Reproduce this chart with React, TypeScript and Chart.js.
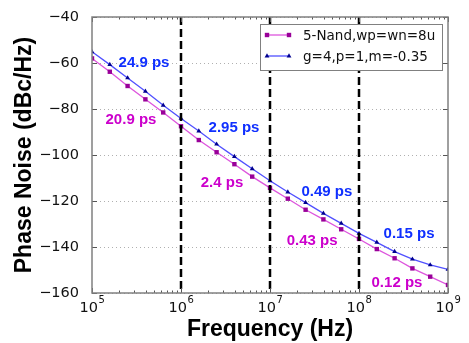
import React, { useEffect, useRef } from 'react';
import { Chart, registerables } from 'chart.js';

Chart.register(...registerables);

// ---- data ----
const freqHz = [
  1.0e5, 1.585e5, 2.512e5, 3.981e5, 6.31e5,
  1.0e6, 1.585e6, 2.512e6, 3.981e6, 6.31e6,
  1.0e7, 1.585e7, 2.512e7, 3.981e7, 6.31e7,
  1.0e8, 1.585e8, 2.512e8, 3.981e8, 6.31e8,
  1.0e9,
];
const nandNoise = [
  -58.0, -63.8, -70.0, -75.8, -81.5,
  -87.5, -93.5, -98.8, -104.0, -109.4,
  -114.3, -119.0, -123.8, -128.0, -132.3,
  -136.5, -140.9, -144.9, -149.3, -152.9,
  -156.5,
];
const modelNoise = [
  -55.1, -60.7, -66.5, -72.3, -78.4,
  -84.1, -89.6, -95.3, -100.7, -106.0,
  -111.2, -116.1, -120.7, -125.4, -129.7,
  -134.1, -138.0, -142.0, -145.3, -147.8,
  -149.7,
];
const seriesNames = ['5-Nand,wp=wn=8u', 'g=4,p=1,m=-0.35'];

const yTickValues = [-160, -140, -120, -100, -80, -60, -40];
const xDecadeValues = [1e5, 1e6, 1e7, 1e8, 1e9];
const xDecadeExponents = ['5', '6', '7', '8', '9'];
const dashedFreqs = [1e6, 1e7, 1e8];

const annoLabels = ['24.9 ps', '20.9 ps', '2.95 ps', '2.4 ps', '0.49 ps', '0.43 ps', '0.15 ps', '0.12 ps'];
const annoFreq = [3.84e5, 2.74e5, 3.94e6, 2.89e6, 4.36e7, 2.97e7, 3.65e8, 2.67e8];
const annoNoise = [-60.0, -84.8, -88.3, -112.2, -116.1, -137.4, -134.3, -155.7];
const annoSeries = [1, 0, 1, 0, 1, 0, 1, 0];

// ---- styles ----
const LINE_COLORS = ['#dd55dd', '#5050ff'];
const MARK_COLORS = ['#990099', '#000090'];
const TEXT_COLORS = ['#cc00cc', '#1030ff'];
const FRAME = '#808080';
const TICK_FONT = '"DejaVu Sans", sans-serif';

function drawMarker(ctx: CanvasRenderingContext2D, kind: number, x: number, y: number) {
  ctx.fillStyle = MARK_COLORS[kind];
  ctx.beginPath();
  if (kind === 0) {
    ctx.rect(x - 2.2, y - 2.2, 4.4, 4.4);
  } else {
    const r = 2.8;
    ctx.moveTo(x, y - r);
    ctx.lineTo(x + r * 0.866, y + r * 0.5);
    ctx.lineTo(x - r * 0.866, y + r * 0.5);
    ctx.closePath();
  }
  ctx.fill();
}

const overlay = {
  id: 'overlay',
  beforeDatasetsDraw(chart: any) {
    const { ctx, chartArea: a, scales } = chart;
    const ys = scales.y;
    ctx.save();
    ctx.strokeStyle = '#b0b0b0';
    ctx.lineWidth = 1;
    ctx.setLineDash([1, 3]);
    for (const v of yTickValues) {
      const py = Math.round(ys.getPixelForValue(v)) + 0.5;
      ctx.beginPath();
      ctx.moveTo(a.left, py);
      ctx.lineTo(a.right, py);
      ctx.stroke();
    }
    ctx.restore();
  },
  afterDatasetsDraw(chart: any) {
    const { ctx, chartArea: a, scales } = chart;
    const xs = scales.x;
    ctx.save();
    ctx.strokeStyle = '#000';
    ctx.lineWidth = 2.5;
    ctx.setLineDash([8, 4]);
    for (const f of dashedFreqs) {
      const px = xs.getPixelForValue(f);
      ctx.beginPath();
      ctx.moveTo(px, a.top);
      ctx.lineTo(px, a.bottom);
      ctx.stroke();
    }
    ctx.restore();
  },
  afterDraw(chart: any) {
    const { ctx, chartArea: a, scales } = chart;
    const xs = scales.x;
    const ys = scales.y;
    ctx.save();
    // ticks (inward, all sides)
    ctx.strokeStyle = '#555';
    ctx.lineWidth = 1;
    for (let i = 0; i < xDecadeValues.length; i++) {
      const d = xDecadeValues[i];
      const px = Math.round(xs.getPixelForValue(d)) + 0.5;
      ctx.beginPath();
      ctx.moveTo(px, a.bottom); ctx.lineTo(px, a.bottom - 5);
      ctx.moveTo(px, a.top); ctx.lineTo(px, a.top + 5);
      ctx.stroke();
      if (i < xDecadeValues.length - 1) {
        for (let m = 2; m <= 9; m++) {
          const mx = Math.round(xs.getPixelForValue(d * m)) + 0.5;
          ctx.beginPath();
          ctx.moveTo(mx, a.bottom); ctx.lineTo(mx, a.bottom - 2.5);
          ctx.moveTo(mx, a.top); ctx.lineTo(mx, a.top + 2.5);
          ctx.stroke();
        }
      }
    }
    for (const v of yTickValues) {
      const py = Math.round(ys.getPixelForValue(v)) + 0.5;
      ctx.beginPath();
      ctx.moveTo(a.left, py); ctx.lineTo(a.left + 5, py);
      ctx.moveTo(a.right, py); ctx.lineTo(a.right - 5, py);
      ctx.stroke();
    }
    // frame
    ctx.strokeStyle = FRAME;
    ctx.lineWidth = 1.5;
    ctx.strokeRect(a.left, a.top, a.right - a.left, a.bottom - a.top);

    // x tick labels 10^n
    ctx.fillStyle = '#111';
    ctx.textBaseline = 'alphabetic';
    ctx.textAlign = 'left';
    for (let i = 0; i < xDecadeValues.length; i++) {
      const px = xs.getPixelForValue(xDecadeValues[i]);
      ctx.font = `14.5px ${TICK_FONT}`;
      const w1 = ctx.measureText('10').width;
      ctx.font = `10px ${TICK_FONT}`;
      const w2 = ctx.measureText(xDecadeExponents[i]).width;
      const x0 = px - (w1 + w2) / 2;
      ctx.font = `14.5px ${TICK_FONT}`;
      ctx.fillText('10', x0, a.bottom + 19);
      ctx.font = `10px ${TICK_FONT}`;
      ctx.fillText(xDecadeExponents[i], x0 + w1 + 0.5, a.bottom + 10);
    }

    // annotations
    ctx.font = 'bold 15px "Liberation Sans", Arial, sans-serif';
    ctx.textAlign = 'center';
    ctx.textBaseline = 'middle';
    for (let i = 0; i < annoLabels.length; i++) {
      ctx.fillStyle = TEXT_COLORS[annoSeries[i]];
      ctx.fillText(annoLabels[i], xs.getPixelForValue(annoFreq[i]), ys.getPixelForValue(annoNoise[i]));
    }

    // legend
    const bw = 182, bh = 46;
    const bx = a.right - 6 - bw;
    const by = a.top + 7;
    ctx.fillStyle = '#fff';
    ctx.fillRect(bx, by, bw, bh);
    ctx.strokeStyle = FRAME;
    ctx.lineWidth = 1;
    ctx.strokeRect(bx + 0.5, by + 0.5, bw, bh);
    ctx.font = `13.5px ${TICK_FONT}`;
    ctx.textAlign = 'left';
    ctx.textBaseline = 'middle';
    for (let k = 0; k < seriesNames.length; k++) {
      const ry = by + 11 + k * 21;
      const lx0 = bx + 7, lx1 = bx + 29;
      ctx.strokeStyle = LINE_COLORS[k];
      ctx.lineWidth = 1.3;
      ctx.beginPath();
      ctx.moveTo(lx0, ry); ctx.lineTo(lx1, ry);
      ctx.stroke();
      drawMarker(ctx, k, lx0, ry);
      drawMarker(ctx, k, lx1, ry);
      ctx.fillStyle = '#111';
      ctx.fillText(seriesNames[k], bx + 43, ry + 1);
    }
    ctx.restore();
  },
};

export default function App() {
  const ref = useRef<HTMLCanvasElement>(null);
  useEffect(() => {
    const canvas = ref.current!;
    const chart = new Chart(canvas, {
      type: 'line',
      data: {
        datasets: [
          {
            label: seriesNames[0],
            data: freqHz.map((f, i) => ({ x: f, y: nandNoise[i] })),
            borderColor: LINE_COLORS[0],
            borderWidth: 1.3,
            pointStyle: 'rect',
            pointRadius: 3.1,
            pointBorderWidth: 0,
            pointBackgroundColor: MARK_COLORS[0],
            pointBorderColor: MARK_COLORS[0],
            tension: 0,
            clip: 0,
          },
          {
            label: seriesNames[1],
            data: freqHz.map((f, i) => ({ x: f, y: modelNoise[i] })),
            borderColor: LINE_COLORS[1],
            borderWidth: 1.3,
            pointStyle: 'triangle',
            pointRadius: 2.8,
            pointBorderWidth: 0,
            pointBackgroundColor: MARK_COLORS[1],
            pointBorderColor: MARK_COLORS[1],
            tension: 0,
            clip: 0,
          },
        ],
      },
      options: {
        responsive: false,
        devicePixelRatio: 1,
        animation: false,
        layout: { padding: { top: 17, right: 21, left: 0, bottom: 0 } },
        plugins: { legend: { display: false }, tooltip: { enabled: false } },
        scales: {
          x: {
            type: 'logarithmic',
            min: 1e5,
            max: 1e9,
            grid: { display: false },
            border: { display: false },
            ticks: { display: false },
            afterBuildTicks: (s: any) => {
              s.ticks = xDecadeValues.map((v) => ({ value: v }));
            },
            afterFit: (s: any) => {
              s.height = 50;
            },
            title: {
              display: true,
              text: 'Frequency (Hz)',
              color: '#000',
              font: { family: '"Liberation Sans", Arial, sans-serif', size: 23, weight: 'bold' },
              padding: { top: 0, bottom: 0 },
            },
          },
          y: {
            type: 'linear',
            min: -160,
            max: -40,
            grid: { display: false },
            border: { display: false },
            afterBuildTicks: (s: any) => {
              s.ticks = yTickValues.map((v) => ({ value: v }));
            },
            ticks: {
              color: '#111',
              padding: 5,
              font: { family: TICK_FONT, size: 14.5 },
              callback: (v: any) => String(v).replace('-', '\u2212'),
            },
            afterFit: (s: any) => {
              s.width = 92;
            },
            title: {
              display: true,
              text: 'Phase Noise (dBc/Hz)',
              color: '#000',
              font: { family: '"Liberation Sans", Arial, sans-serif', size: 23, weight: 'bold' },
              padding: { top: 11, bottom: 0 },
            },
          },
        },
      },
      plugins: [overlay],
    } as any);
    return () => chart.destroy();
  }, []);
  return (
    <div style={{ position: 'fixed', left: 0, top: 0, width: 469, height: 343, background: '#fff' }}>
      <canvas ref={ref} width={469} height={343} style={{ display: 'block' }} />
    </div>
  );
}
